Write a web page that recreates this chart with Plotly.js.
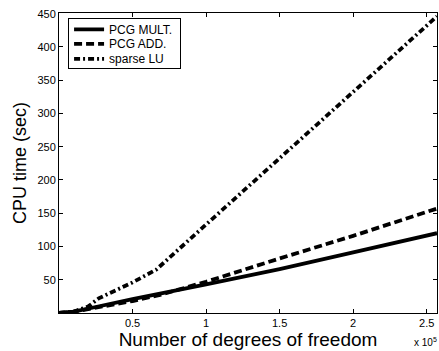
<!DOCTYPE html>
<html>
<head>
<meta charset="utf-8">
<script src="https://cdn.plot.ly/plotly-3.0.1.min.js"></script>
<style>html,body{margin:0;padding:0;background:#fff;}#chart{width:439px;height:351px;}</style>
</head>
<body>
<div id="chart"></div>
<script>
// Degrees of freedom (units of 1e5) and CPU time (sec)
const multX = [0, 0.1, 0.25, 0.5, 1.0, 1.5, 2.0, 2.57];
const multY = [0, 2, 9, 21, 43, 66, 91, 120];
const addX = [0, 0.1, 0.25, 0.5, 0.7, 1.0, 1.5, 2.0, 2.57];
const addY = [0, 2, 8, 18, 28, 47, 82, 116, 157];
const luX = [0, 0.1, 0.2, 0.27, 0.5, 0.66, 1.0, 1.5, 2.0, 2.57];
const luY = [0, 2, 10, 22, 46, 65, 133, 233, 333, 446];
const seriesNames = ["PCG MULT.", "PCG ADD.", "sparse LU"];
const xTickVals = [0.5, 1, 1.5, 2, 2.5];
const xTickText = ["0.5", "1", "1.5", "2", "2.5"];
const yTickVals = [50, 100, 150, 200, 250, 300, 350, 400, 450];

const font = "Liberation Sans, Arial, sans-serif";
const traces = [
  {x: multX, y: multY, name: seriesNames[0], mode: "lines", line: {color: "#000", width: 3.8}},
  {x: addX, y: addY, name: seriesNames[1], mode: "lines", line: {color: "#000", width: 3.8, dash: "8px,4px"}},
  {x: luX, y: luY, name: seriesNames[2], mode: "lines", line: {color: "#000", width: 3.8, dash: "6px,3px,2px,3px"}}
];
const layout = {
  width: 439, height: 351,
  margin: {l: 59, r: 2, t: 13, b: 38, pad: 0},
  paper_bgcolor: "#fff", plot_bgcolor: "#fff",
  font: {family: font, color: "#000", size: 11},
  showlegend: true,
  legend: {x: 0.024, y: 0.984, xanchor: "left", yanchor: "top", bgcolor: "#fff",
    bordercolor: "#000", borderwidth: 1, font: {family: font, size: 12, color: "#000"},
    tracegroupgap: 0, itemwidth: 30},
  xaxis: {range: [0, 2.57], tickvals: xTickVals, ticktext: xTickText, ticks: "inside", ticklen: 4,
    tickcolor: "#000", showline: true, linecolor: "#000", linewidth: 1, mirror: "ticks",
    showgrid: false, zeroline: false, tickfont: {size: 11},
    title: {text: "Number of degrees of freedom", font: {size: 19}, standoff: 0}},
  yaxis: {range: [0, 451], tickvals: yTickVals, ticks: "inside", ticklen: 4,
    tickcolor: "#000", showline: true, linecolor: "#000", linewidth: 1, mirror: "ticks",
    showgrid: false, zeroline: false, tickfont: {size: 11},
    title: {text: "CPU time (sec)", font: {size: 18}, standoff: 6}},
  annotations: [{xref: "paper", yref: "paper", x: 1.005, y: -0.122, xanchor: "right", yanchor: "bottom",
    text: "x 10<sup>5</sup>", showarrow: false, font: {size: 10}}]
};
Plotly.newPlot("chart", traces, layout, {staticPlot: true, displayModeBar: false}).then(function () {
  // tighten legend row spacing to match the reference box
  const items = document.querySelectorAll(".legend .traces");
  const rowY = [11.5, 26, 41];
  items.forEach(function (el, i) {
    const t = el.getAttribute("transform") || "";
    const m = t.match(/translate\(\s*([-\d.]+)[ ,]+([-\d.]+)\s*\)/);
    const x = m ? m[1] : 1;
    el.setAttribute("transform", "translate(" + x + "," + rowY[i] + ")");
  });
  const bg = document.querySelector(".legend .bg");
  if (bg) { bg.setAttribute("height", 50); bg.setAttribute("width", 112); }
});
</script>
</body>
</html>
